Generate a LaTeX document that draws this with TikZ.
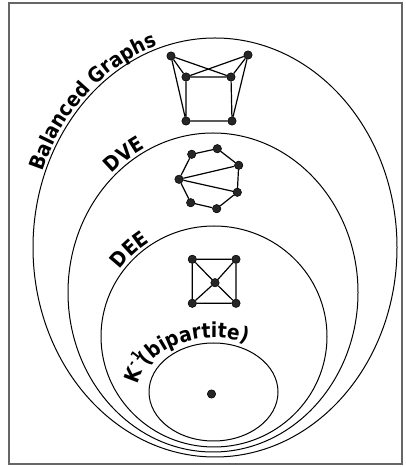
\documentclass[tikz,border=0pt]{standalone}
\usepackage{fontspec}
\setmainfont{DejaVu Sans}
\newfontfamily\condfam{DejaVu Sans Condensed}
\usetikzlibrary{decorations.text}
\newcommand\lblfont{\condfam\fontsize{15.5}{17}\bfseries\selectfont}
\newcommand\supfont{\condfam\fontsize{9.5}{10}\bfseries\selectfont}
\begin{document}
\begin{tikzpicture}[x=0.75pt,y=0.75pt,
  dot/.style={circle,fill=black!85,draw=black,inner sep=0pt,minimum size=6.3pt},
  edge/.style={line width=0.9pt},
  region/.style={line width=0.75pt},
  frame/.style={draw=black!60,line width=1pt},
  curvelabel/.style={decorate,decoration={text along path,text align=left,text={#1}}}]
\useasboundingbox (0,0) rectangle (406,467);
\draw[frame] (9,3) rectangle (402,464);

% region centres
\coordinate (cO) at (215,219.5);
\coordinate (cV) at (213,174.5);
\coordinate (cE) at (214,130.5);
\coordinate (cK) at (213.5,75);

\draw[region] (cO) ellipse [x radius=182, y radius=209.5];
\draw[region] (cV) ellipse [x radius=145, y radius=159.5];
\draw[region] (cE) ellipse [x radius=113, y radius=110.5];
\draw[region] (cK) ellipse [x radius=64.5, y radius=49];

% labels
\path[curvelabel={|\lblfont|Balanced Graphs}] (cO) ++(159:185 and 212.5)
  arc[start angle=159, end angle=60, x radius=185, y radius=212.5];
\path[curvelabel={|\lblfont|DVE}] (cV) ++(133:148 and 162.5)
  arc[start angle=133, end angle=60, x radius=148, y radius=162.5];
\path[curvelabel={|\lblfont|DEE}] (cE) ++(144:116 and 113.5)
  arc[start angle=144, end angle=60, x radius=116, y radius=113.5];
\path[curvelabel={|\lblfont|K}] (cK) ++(172:76 and 55)
  arc[start angle=172, end angle=120, x radius=76, y radius=55];
\path[decorate,decoration={text along path,text align=left,raise=7.5pt,text={|\supfont|-1}}] (cK) ++(159:76 and 55)
  arc[start angle=159, end angle=120, x radius=76, y radius=55];
\path[curvelabel={|\lblfont|(bipartite)}] (cK) ++(152:75 and 54)
  arc[start angle=152, end angle=10, x radius=75, y radius=54];

% balanced graph
\node[dot] (a1) at (171,411) {};
\node[dot] (a2) at (248,412) {};
\node[dot] (b1) at (186,390) {};
\node[dot] (b2) at (231,390) {};
\node[dot] (c1) at (186,346) {};
\node[dot] (c2) at (232,346) {};
\draw[edge] (a1) -- (b1) (a1) -- (b2) (a1) -- (c1)
            (a2) -- (b1) (a2) -- (b2) (a2) -- (c2)
            (b1) -- (b2) (b1) -- (c1) (b2) -- (c2) (c1) -- (c2);

% DVE graph
\node[dot] (m1) at (191.7,312.7) {};
\node[dot] (m2) at (217.3,318.3) {};
\node[dot] (m3) at (238.7,301.7) {};
\node[dot] (m4) at (237.3,274.7) {};
\node[dot] (m5) at (216.7,258.3) {};
\node[dot] (m6) at (190.7,264.3) {};
\node[dot] (m7) at (179,287.7) {};
\draw[edge] (m1) -- (m2) -- (m3) -- (m4) -- (m5) -- (m6) -- (m7) -- (m1)
            (m7) -- (m3) (m7) -- (m4);

% DEE graph
\node[dot] (d1) at (192.3,207.7) {};
\node[dot] (d2) at (236,207.7) {};
\node[dot] (d0) at (215,184.3) {};
\node[dot] (d3) at (192.3,163.7) {};
\node[dot] (d4) at (236,163.7) {};
\draw[edge] (d1) -- (d2) -- (d4) -- (d3) -- (d1)
            (d1) -- (d0) -- (d4) (d2) -- (d0) -- (d3);

% bipartite
\node[dot] (k0) at (211.5,73) {};
\end{tikzpicture}
\end{document}
